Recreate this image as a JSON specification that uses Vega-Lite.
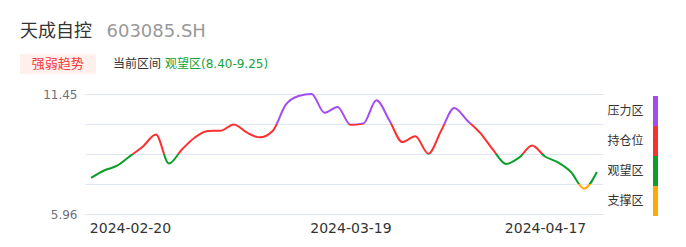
{
  "$schema": "https://vega.github.io/schema/vega-lite/v6.json",
  "background": "white",
  "padding": {"left": 20, "top": 22, "right": 0, "bottom": 0},
  "title": {"text": "天成自控", "anchor": "start", "frame": "group", "fontSize": 18, "fontWeight": "normal", "color": "#333333", "dx": -65, "offset": -18},
  "config": {
    "view": {"stroke": null},
    "font": "DejaVu Sans, Noto Sans CJK SC",
    "axis": {"labelFont": "DejaVu Sans, Noto Sans CJK SC", "titleFont": "DejaVu Sans, Noto Sans CJK SC"},
    "legend": {"labelFont": "DejaVu Sans, Noto Sans CJK SC", "titleFont": "DejaVu Sans, Noto Sans CJK SC"},
    "title": {"font": "DejaVu Sans, Noto Sans CJK SC"}
  },
  "bounds": "flush",
  "spacing": 50,
  "hconcat": [
    {
      "width": 518,
      "height": 120,
      "data": {"values": [
        {"date": "2024-02-07", "close": 7.61},
        {"date": "2024-02-08", "close": 7.95},
        {"date": "2024-02-19", "close": 8.17},
        {"date": "2024-02-20", "close": 8.61},
        {"date": "2024-02-21", "close": 9.05},
        {"date": "2024-02-22", "close": 9.60},
        {"date": "2024-02-26", "close": 8.27},
        {"date": "2024-02-27", "close": 8.91},
        {"date": "2024-02-28", "close": 9.46},
        {"date": "2024-02-29", "close": 9.76},
        {"date": "2024-03-04", "close": 9.77},
        {"date": "2024-03-05", "close": 10.06},
        {"date": "2024-03-06", "close": 9.69},
        {"date": "2024-03-07", "close": 9.47},
        {"date": "2024-03-11", "close": 9.76},
        {"date": "2024-03-12", "close": 10.95},
        {"date": "2024-03-13", "close": 11.36},
        {"date": "2024-03-14", "close": 11.45},
        {"date": "2024-03-15", "close": 10.59},
        {"date": "2024-03-18", "close": 10.86},
        {"date": "2024-03-19", "close": 10.04},
        {"date": "2024-03-20", "close": 10.10},
        {"date": "2024-03-21", "close": 11.16},
        {"date": "2024-03-25", "close": 10.24},
        {"date": "2024-03-26", "close": 9.25},
        {"date": "2024-03-27", "close": 9.52},
        {"date": "2024-03-28", "close": 8.72},
        {"date": "2024-04-01", "close": 9.78},
        {"date": "2024-04-02", "close": 10.81},
        {"date": "2024-04-08", "close": 10.24},
        {"date": "2024-04-09", "close": 9.67},
        {"date": "2024-04-10", "close": 8.89},
        {"date": "2024-04-11", "close": 8.25},
        {"date": "2024-04-15", "close": 8.54},
        {"date": "2024-04-16", "close": 9.09},
        {"date": "2024-04-17", "close": 8.59},
        {"date": "2024-04-18", "close": 8.32},
        {"date": "2024-04-19", "close": 7.88},
        {"date": "2024-04-22", "close": 7.12},
        {"date": "2024-04-23", "close": 7.88}
      ]},
      "mark": {
        "type": "line",
        "interpolate": "monotone",
        "strokeWidth": 2,
        "stroke": {
          "gradient": "linear",
          "x1": 0, "y1": 0, "x2": 0, "y2": 1,
          "stops": [
            {"offset": 0, "color": "#a24cf2"},
            {"offset": 0.317, "color": "#a24cf2"},
            {"offset": 0.317, "color": "#fb3131"},
            {"offset": 0.634, "color": "#fb3131"},
            {"offset": 0.634, "color": "#0c9e2a"},
            {"offset": 0.951, "color": "#0c9e2a"},
            {"offset": 0.951, "color": "#ffaa00"},
            {"offset": 1, "color": "#ffaa00"}
          ]
        }
      },
      "encoding": {
        "x": {
          "field": "date", "type": "ordinal",
          "scale": {"type": "point", "padding": 0.47},
          "axis": {
            "values": ["2024-02-20", "2024-03-19", "2024-04-17"],
            "labelAngle": 0, "labelFontSize": 14, "labelColor": "#333333",
            "ticks": false, "domain": false, "grid": false, "labelPadding": 7,
            "title": "当前区间", "titleX": 27.5, "titleY": -147, "titleAlign": "left",
            "titleBaseline": "alphabetic", "titleFontSize": 12, "titleFontWeight": "normal", "titleColor": "#333333"
          }
        },
        "y": {
          "field": "close", "type": "quantitative",
          "scale": {"domain": [5.96, 11.45], "nice": false, "zero": false},
          "axis": {
            "values": [5.96, 7.3325, 8.705, 10.0775, 11.45],
            "labelExpr": "datum.value == 5.96 || datum.value == 11.45 ? format(datum.value, '.2f') : ''",
            "grid": true, "gridColor": "#e0e6f1", "gridWidth": 1,
            "domain": false, "ticks": false, "labelPadding": 8,
            "labelFontSize": 12, "labelColor": "#6e7079",
            "title": "603085.SH", "titleX": 21, "titleY": -57.5, "titleAngle": 0,
            "titleAlign": "left", "titleBaseline": "alphabetic",
            "titleFontSize": 18, "titleFontWeight": "normal", "titleColor": "#999999"
          }
        }
      }
    },
    {
      "width": 5,
      "height": 120,
      "data": {"values": [
        {"zone": "压力区"},
        {"zone": "持仓位"},
        {"zone": "观望区"},
        {"zone": "支撑区"}
      ]},
      "mark": {"type": "rect", "yOffset": 2, "y2Offset": 2},
      "encoding": {
        "y": {
          "field": "zone", "type": "nominal",
          "sort": ["压力区", "持仓位", "观望区", "支撑区"],
          "scale": {"paddingInner": 0, "paddingOuter": 0},
          "axis": {
            "orient": "left", "domain": false, "ticks": false, "labelPadding": 10,
            "labelFontSize": 12, "labelColor": "#333333", "labelOffset": 2,
            "title": "观望区(8.40-9.25)", "titleX": -488.5, "titleY": -27, "titleAngle": 0,
            "titleAlign": "left", "titleBaseline": "alphabetic",
            "titleFontSize": 12, "titleFontWeight": "normal", "titleColor": "#13a33a"
          }
        },
        "color": {
          "field": "zone", "type": "nominal",
          "scale": {"domain": ["压力区", "持仓位", "观望区", "支撑区"], "range": ["#a24cf2", "#fb3131", "#0c9e2a", "#ffaa00"]},
          "legend": {
            "orient": "none", "legendX": -65, "legendY": -40,
            "values": [],
            "title": "\u200b\u00a0\u00a0强弱趋势\u00a0\u00a0\u200b",
            "titleColor": "#f43a3a", "titleFontSize": 13, "titleFontWeight": "normal",
            "fillColor": "#fff0ee", "padding": 3.5
          }
        }
      }
    }
  ]
}
